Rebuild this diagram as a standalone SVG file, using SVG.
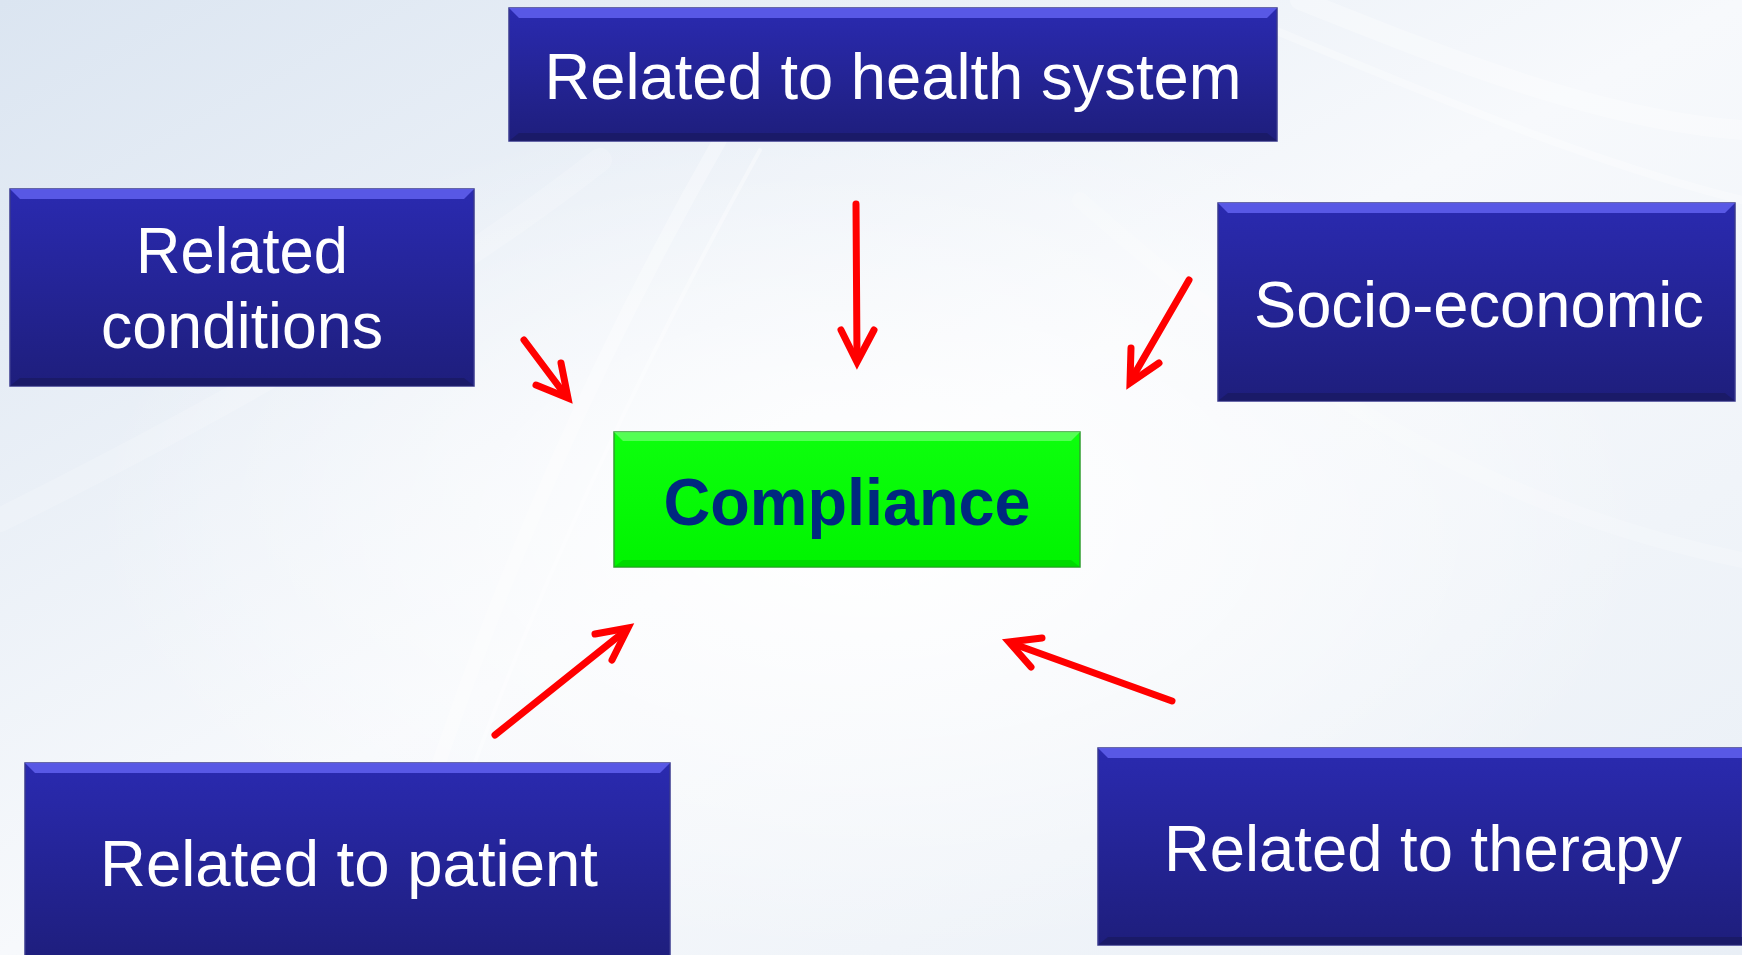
<svg xmlns="http://www.w3.org/2000/svg" width="1742" height="955" viewBox="0 0 1742 955">
<defs>
<linearGradient id="bgG" x1="0" y1="0" x2="1" y2="1">
<stop offset="0" stop-color="#dbe5f1"/>
<stop offset="0.5" stop-color="#f7f9fc"/>
<stop offset="1" stop-color="#e9eff6"/>
</linearGradient>
<radialGradient id="bgR" cx="0.5" cy="0.55" r="0.45">
<stop offset="0" stop-color="#ffffff" stop-opacity="1"/>
<stop offset="1" stop-color="#ffffff" stop-opacity="0"/>
</radialGradient>
<linearGradient id="blueG" x1="0" y1="0" x2="0" y2="1">
<stop offset="0" stop-color="#2a2ab0"/>
<stop offset="1" stop-color="#1e1e7c"/>
</linearGradient>
<linearGradient id="greenG" x1="0" y1="0" x2="0" y2="1">
<stop offset="0" stop-color="#0dff0d"/>
<stop offset="1" stop-color="#00f400"/>
</linearGradient>
<style>
.box{fill:url(#blueG);stroke:#3a3a8e;stroke-width:1.5}
.btop{fill:#6060ee;opacity:0.85}
.bbot{fill:#181860;opacity:0.7}
.gbox{fill:url(#greenG);stroke:#2f9f2f;stroke-width:1.5}
.gtop{fill:#66ff66;opacity:0.8}
.gbot{fill:#00c800;opacity:0.6}
.lbl{font-family:"Liberation Sans",Arial,sans-serif;font-size:64px;fill:#ffffff;text-anchor:middle}
.clbl{font-family:"Liberation Sans",Arial,sans-serif;font-size:66px;font-weight:bold;fill:#00297f;text-anchor:middle}
.arr{fill:none;stroke:#ff0000;stroke-width:7;stroke-linecap:round;stroke-linejoin:miter}
.swoosh{fill:none;stroke:#ffffff;stroke-linecap:round}
</style>
</defs>
<rect x="0" y="0" width="1742" height="955" fill="url(#bgG)"/>
<rect x="0" y="0" width="1742" height="955" fill="url(#bgR)"/>
<g opacity="0.6">
<path class="swoosh" d="M380 955 C 450 700, 560 420, 720 140" stroke-width="14" opacity="0.5"/>
<path class="swoosh" d="M410 955 C 480 720, 600 440, 760 150" stroke-width="4" opacity="0.6"/>
<path class="swoosh" d="M0 520 C 200 420, 420 300, 600 160" stroke-width="24" opacity="0.3"/>
<path class="swoosh" d="M1300 0 C 1450 60, 1600 120, 1742 130" stroke-width="20" opacity="0.5"/>
<path class="swoosh" d="M1250 20 C 1420 90, 1580 160, 1742 200" stroke-width="8" opacity="0.5"/>
<path class="swoosh" d="M1080 200 C 1250 350, 1450 500, 1742 560" stroke-width="16" opacity="0.3"/>
</g>

<g id="node-health">
<rect class="box" x="509" y="8" width="768" height="133"/>
<polygon class="btop" points="509,8 1277,8 1267,18 519,18"/>
<polygon class="bbot" points="509,141 1277,141 1267,133 519,133"/>
<text class="lbl" x="893" y="99" textLength="697" lengthAdjust="spacingAndGlyphs">Related to health system</text>
</g>

<g id="node-conditions">
<rect class="box" x="10" y="189" width="464" height="197"/>
<polygon class="btop" points="10,189 474,189 464,199 20,199"/>
<polygon class="bbot" points="10,386 474,386 464,378 20,378"/>
<text class="lbl" x="242" y="273" textLength="212" lengthAdjust="spacingAndGlyphs">Related</text>
<text class="lbl" x="242" y="348" textLength="282" lengthAdjust="spacingAndGlyphs">conditions</text>
</g>

<g id="node-socio">
<rect class="box" x="1218" y="203" width="517" height="198"/>
<polygon class="btop" points="1218,203 1735,203 1725,213 1228,213"/>
<polygon class="bbot" points="1218,401 1735,401 1725,393 1228,393"/>
<text class="lbl" x="1479" y="327" textLength="450" lengthAdjust="spacingAndGlyphs">Socio-economic</text>
</g>

<g id="node-compliance">
<rect class="gbox" x="614" y="432" width="466" height="135"/>
<polygon class="gtop" points="614,432 1080,432 1071,441 623,441"/>
<polygon class="gbot" points="614,567 1080,567 1071,560 623,560"/>
<text class="clbl" x="847" y="525" textLength="367" lengthAdjust="spacingAndGlyphs">Compliance</text>
</g>

<g id="node-patient">
<rect class="box" x="25" y="763" width="645" height="200"/>
<polygon class="btop" points="25,763 670,763 660,773 35,773"/>
<text class="lbl" x="349" y="886" textLength="498" lengthAdjust="spacingAndGlyphs">Related to patient</text>
</g>

<g id="node-therapy">
<rect class="box" x="1098" y="748" width="644" height="197"/>
<polygon class="btop" points="1098,748 1742,748 1742,758 1108,758"/>
<polygon class="bbot" points="1098,945 1742,945 1742,937 1108,937"/>
<text class="lbl" x="1423" y="871" textLength="518" lengthAdjust="spacingAndGlyphs">Related to therapy</text>
</g>

<g id="connectors">
<path class="arr" d="M856 204 L857 359"/>
<path class="arr" d="M841 330 L857 362 L874 330"/>
<path class="arr" d="M524 340 L566 396"/>
<path class="arr" d="M561 363 L568 398 L536 385"/>
<path class="arr" d="M1189 280 L1131 380"/>
<path class="arr" d="M1131 348 L1130 383 L1159 363"/>
<path class="arr" d="M495 735 L625 631"/>
<path class="arr" d="M595 634 L628 628 L612 660"/>
<path class="arr" d="M1172 701 L1011 643"/>
<path class="arr" d="M1042 638 L1009 642 L1031 667"/>
</g>
</svg>
